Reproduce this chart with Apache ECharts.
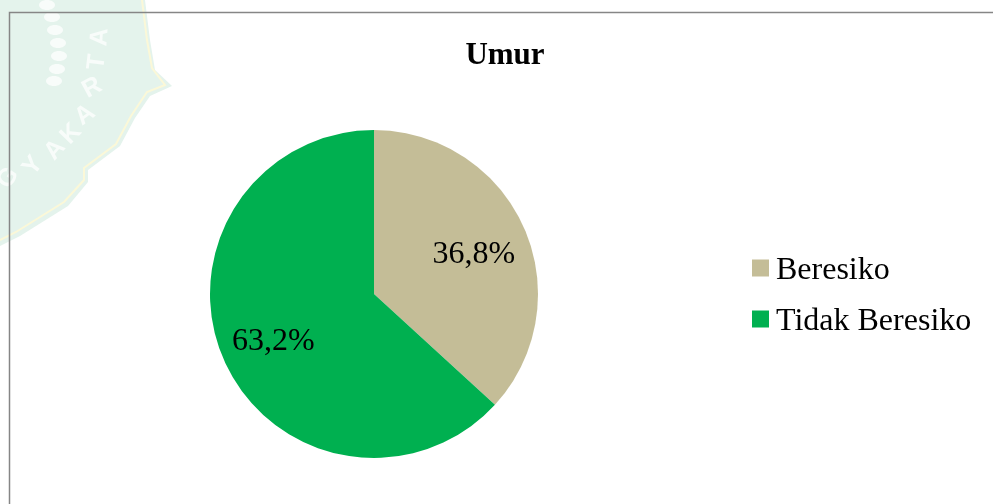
<!DOCTYPE html>
<html>
<head>
<meta charset="utf-8">
<style>
  html, body { margin: 0; padding: 0; background: #fff; }
  #main { width: 993px; height: 504px; }
</style>
<script src="https://cdn.jsdelivr.net/npm/echarts@6/dist/echarts.min.js"></script>
</head>
<body>
<div id="main"></div>
<script>
var categories = ['Beresiko', 'Tidak Beresiko'];
var values = [36.8, 63.2];
var colors = ['#C4BD97', '#00B050'];

// watermark letters: [letter, x, y, rotation]
var stampLetters = [
  ['G', 8, 178, 0.95], ['Y', 33, 166, 0.9], ['A', 55, 150, 0.85], ['K', 71, 134, 0.8],
  ['A', 85, 115, 0.65], ['R', 92, 88, 0.5], ['T', 97, 62, 1.45], ['A', 100, 37, 1.5]
];
// watermark rice grains: [x, y]
var stampGrains = [[47, 5], [52, 17], [55, 30], [58, 43], [59, 56], [57, 69], [54, 81]];

var chart = echarts.init(document.getElementById('main'));
var font = '"Liberation Serif", "Times New Roman", serif';

var stamp = [
  {
    type: 'polygon',
    z: -1,
    shape: {
      points: [[0, 0], [145, 0], [150, 40], [155, 70], [172, 86], [150, 96], [135, 118], [120, 146],
        [88, 170], [88, 182], [68, 206], [20, 236], [0, 246]]
    },
    style: { fill: '#E4F3EC' }
  },
  {
    type: 'polyline',
    z: -1,
    shape: {
      points: [[142, 0], [147, 40], [152, 68], [165, 85], [147, 92], [131, 116], [116, 144],
        [84, 168], [84, 180], [64, 202], [16, 232], [0, 240]]
    },
    style: { fill: 'none', stroke: '#FBF8D8', lineWidth: 2 }
  }
].concat(stampGrains.map(function (g) {
  return {
    type: 'ellipse',
    z: -1,
    shape: { cx: g[0], cy: g[1], rx: 8, ry: 5 },
    style: { fill: '#F8FCFA' }
  };
})).concat(stampLetters.map(function (l) {
  return {
    type: 'text',
    z: -1,
    x: l[1],
    y: l[2],
    rotation: l[3],
    style: {
      text: l[0],
      fontFamily: 'Liberation Sans',
      fontSize: 25,
      fontWeight: 'bold',
      fill: '#F8FCFA',
      textAlign: 'center',
      textVerticalAlign: 'middle'
    }
  };
}));

var option = {
  animation: false,
  backgroundColor: '#fff',
  title: {
    text: 'Umur',
    left: 500,
    top: 35,
    textAlign: 'center',
    textStyle: { fontFamily: font, fontSize: 31, fontWeight: 'bold', color: '#000' }
  },
  legend: {
    orient: 'vertical',
    left: 747,
    top: 250,
    icon: 'rect',
    itemWidth: 17,
    itemHeight: 17,
    itemGap: 19,
    formatter: function (name) {
      return '{t|' + name + '}';
    },
    textStyle: {
      rich: {
        t: { fontFamily: font, fontSize: 32, color: '#000', padding: [6, 0, 0, 2] }
      }
    },
    data: categories
  },
  graphic: stamp.concat([
    // chart frame
    {
      type: 'polyline',
      z: 0,
      shape: { points: [[9.5, 504], [9.5, 12.5], [993, 12.5]] },
      style: { fill: 'none', stroke: '#868686', lineWidth: 1.5 }
    }
  ]),
  series: [
    {
      type: 'pie',
      center: [374, 294],
      radius: [0, 164],
      startAngle: 90,
      clockwise: true,
      silent: true,
      color: colors,
      data: categories.map(function (name, i) {
        var offsets = [[22, -5], [-23, 13]];
        return { name: name, value: values[i], label: { offset: offsets[i] } };
      }),
      label: {
        position: 'inside',
        fontFamily: font,
        fontSize: 32,
        color: '#000',
        formatter: function (p) {
          return p.value.toFixed(1).replace('.', ',') + '%';
        }
      },
      labelLine: { show: false }
    }
  ]
};

chart.setOption(option);
</script>
</body>
</html>
